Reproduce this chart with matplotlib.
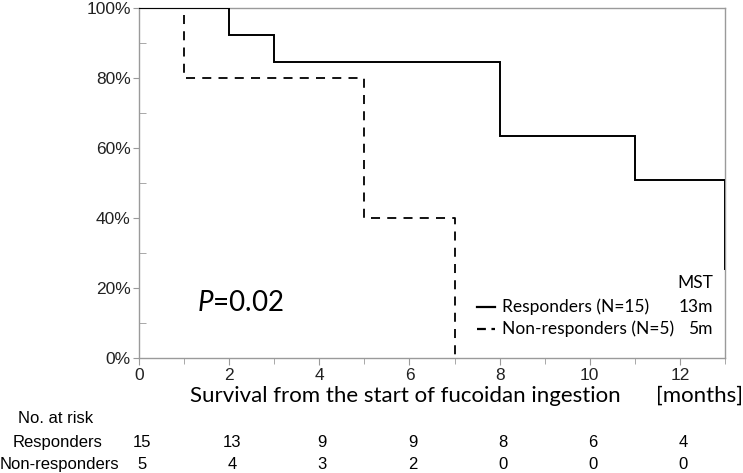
import matplotlib
matplotlib.use("Agg")
import matplotlib.pyplot as plt
from matplotlib.ticker import MultipleLocator

matplotlib.rcParams['mathtext.fontset'] = 'custom'
matplotlib.rcParams['mathtext.it'] = 'Lato:italic'
matplotlib.rcParams['mathtext.rm'] = 'Lato'

# Data
resp_t = [0, 2, 3, 8, 11, 13]
resp_s = [100, 92.3, 84.6, 63.5, 50.8, 25.4]
nonresp_t = [1, 5, 7]
nonresp_s = [100, 80, 40, 0]
risk_times = [0, 2, 4, 6, 8, 10, 12]
risk_resp = [15, 13, 9, 9, 8, 6, 4]
risk_nonresp = [5, 4, 3, 2, 0, 0, 0]
yticks = [0, 20, 40, 60, 80, 100]
xticks = [0, 2, 4, 6, 8, 10, 12]

W, H = 743, 473
fig = plt.figure(figsize=(W/100, H/100), dpi=100)
ax = fig.add_axes([139/W, 1-358/H, (725-139)/W, (358-8)/H])

grey = '#9a9a9a'
sans = 'Liberation Sans'
cal = 'Lato'

# Responders step curve
xs, ys = [resp_t[0]], [resp_s[0]]
for i in range(1, len(resp_t)):
    xs += [resp_t[i], resp_t[i]]
    ys += [resp_s[i-1], resp_s[i]]
ax.plot(xs, ys, color='black', lw=1.4, solid_joinstyle='miter', zorder=3)

# Non-responders step curve
xs2, ys2 = [nonresp_t[0]], [nonresp_s[0] - 2]
for i, t in enumerate(nonresp_t):
    if i > 0:
        xs2 += [t]
        ys2 += [nonresp_s[i]]
    xs2 += [t]
    ys2 += [nonresp_s[i+1]]
ax.plot(xs2, ys2, color='black', lw=1.3, dashes=(5, 4), zorder=3)

ax.set_xlim(0, 13)
ax.set_ylim(0, 100)
for s in ax.spines.values():
    s.set_color(grey)
    s.set_linewidth(1.0)

ax.set_yticks(yticks)
ax.set_yticklabels([f"{v}%" for v in yticks], fontfamily=sans, fontsize=12.5, color='#222222')
ax.yaxis.set_minor_locator(MultipleLocator(10))
ax.set_xticks(xticks)
ax.set_xticklabels([str(v) for v in xticks], fontfamily=sans, fontsize=12.5, color='#222222')
ax.xaxis.set_minor_locator(MultipleLocator(1))
ax.tick_params(axis='y', which='major', direction='out', length=4, color=grey, pad=2)
ax.tick_params(axis='y', which='minor', direction='in', length=5, color=grey)
ax.tick_params(axis='x', which='major', direction='out', length=5, color=grey, pad=2)
ax.tick_params(axis='x', which='minor', direction='out', length=4, color=grey)

def px(x, y):
    return (x / W, 1 - y / H)

fig.text(*px(405, 396), "Survival from the start of fucoidan ingestion", fontfamily=cal,
         fontsize=16, ha='center', va='center')
fig.text(*px(699, 396), "[months]", fontfamily=cal, fontsize=16, ha='center', va='center')

# P value
fig.text(*px(197, 303), r"$P$=0.02", fontsize=20, ha='left', va='center', fontfamily=cal)

# Legend
fig.lines.append(plt.Line2D([477/W, 495/W], [1-307/H]*2, color='black', lw=1.6, transform=fig.transFigure))
fig.lines.append(plt.Line2D([477/W, 495/W], [1-329/H]*2, color='black', lw=1.6, dashes=(4, 2.5), transform=fig.transFigure))
fig.text(*px(502, 307), "Responders (N=15)", fontfamily=cal, fontsize=12.5, ha='left', va='center')
fig.text(*px(502, 329), "Non-responders (N=5)", fontfamily=cal, fontsize=12.5, ha='left', va='center')
fig.text(*px(713, 283), "MST", fontfamily=cal, fontsize=12.5, ha='right', va='center')
fig.text(*px(713, 307), "13m", fontfamily=cal, fontsize=12.5, ha='right', va='center')
fig.text(*px(713, 329), "5m", fontfamily=cal, fontsize=12.5, ha='right', va='center')

# Risk table
fig.text(*px(56, 418), "No. at risk", fontfamily=sans, fontsize=12, ha='center', va='center')
fig.text(*px(58, 442), "Responders", fontfamily=sans, fontsize=12, ha='center', va='center')
fig.text(*px(59, 464), "Non-responders", fontfamily=sans, fontsize=12, ha='center', va='center')
for t, a, b in zip(risk_times, risk_resp, risk_nonresp):
    xf = ax.transData.transform((t, 0))[0] / W + 3/W
    fig.text(xf, 1-442/H, str(a), fontfamily=sans, fontsize=12, ha='center', va='center')
    fig.text(xf, 1-464/H, str(b), fontfamily=sans, fontsize=12, ha='center', va='center')

fig.savefig("out.png", dpi=100)
